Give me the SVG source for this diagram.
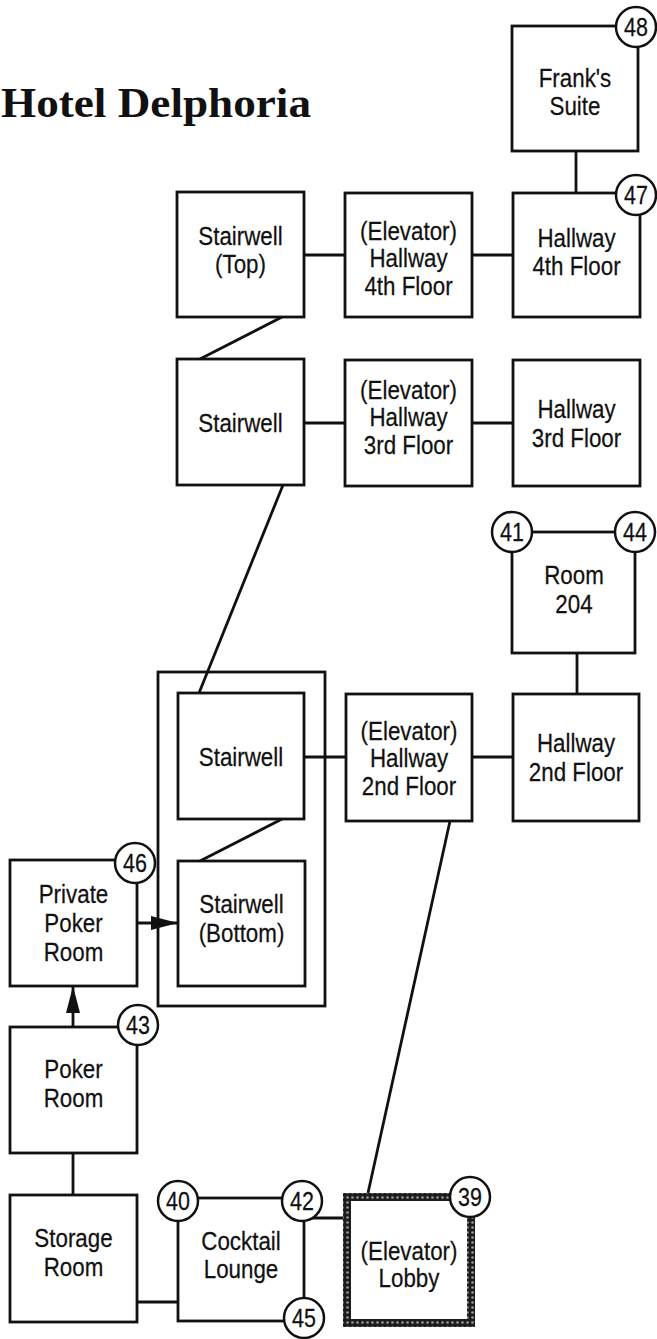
<svg xmlns="http://www.w3.org/2000/svg" width="657" height="1339" viewBox="0 0 657 1339">
<style>
.bg{fill:#ffffff}
.box{fill:none;stroke:#111;stroke-width:2.8}
.encl{fill:none;stroke:#111;stroke-width:2.8}
.con{fill:none;stroke:#111;stroke-width:2.8}
.num{fill:#fff;stroke:#111;stroke-width:2.5}
.t{font-family:"Liberation Sans",Arial,Helvetica,sans-serif;font-size:26px;fill:#111;text-anchor:middle;stroke:#111;stroke-width:0.25}
.n{font-family:"Liberation Sans",Arial,Helvetica,sans-serif;font-size:25px;fill:#111;text-anchor:middle;stroke:#111;stroke-width:0.25}
.title{font-family:"Liberation Serif","Times New Roman",serif;font-size:43px;font-weight:bold;fill:#111}
</style>
<defs>
<marker id="arr" viewBox="0 0 27 14" refX="27" refY="7" markerWidth="27" markerHeight="14" markerUnits="userSpaceOnUse" orient="auto">
<path d="M0,0 L27,7 L0,14 z" fill="#111"/>
</marker>
<pattern id="braid" width="5" height="5" patternUnits="userSpaceOnUse">
<rect width="5" height="5" fill="#1c1c1c"/>
<circle cx="2.5" cy="2.5" r="1.3" fill="#9a9a9a"/>
</pattern>
</defs>
<rect class="bg" x="0" y="0" width="657" height="1339"/>
<text class="title" x="1" y="117" textLength="310" lengthAdjust="spacingAndGlyphs">Hotel Delphoria</text>

<g id="connectors">
<line class="con" x1="576" y1="151" x2="576" y2="193"/>
<line class="con" x1="304" y1="255" x2="345" y2="255"/>
<line class="con" x1="472" y1="255" x2="513" y2="255"/>
<line class="con" x1="282" y1="317" x2="200" y2="359"/>
<line class="con" x1="304" y1="423" x2="345" y2="423"/>
<line class="con" x1="472" y1="423" x2="513" y2="423"/>
<line class="con" x1="283" y1="485" x2="199" y2="693"/>
<line class="con" x1="577" y1="653" x2="577" y2="694"/>
<line class="con" x1="304" y1="757" x2="346" y2="757"/>
<line class="con" x1="472" y1="757" x2="513" y2="757"/>
<line class="con" x1="282" y1="819" x2="200" y2="861"/>
<line class="con" x1="137" y1="923" x2="178" y2="923" marker-end="url(#arr)"/>
<line class="con" x1="73" y1="1027" x2="73" y2="986" marker-end="url(#arr)"/>
<line class="con" x1="73" y1="1153" x2="73" y2="1195"/>
<line class="con" x1="137" y1="1302" x2="178" y2="1302"/>
<line class="con" x1="304" y1="1218" x2="343" y2="1218"/>
<line class="con" x1="450" y1="821" x2="368" y2="1193"/>
</g>

<g id="stair-enclosure">
<rect class="encl" x="158" y="672" width="167" height="334"/>
</g>

<g id="franks-suite">
<rect class="box" x="512" y="26" width="126" height="125"/>
<text class="t" transform="translate(575 0) scale(0.86 1)"><tspan x="0" y="87">Frank's</tspan><tspan x="0" y="115">Suite</tspan></text>
<circle class="num" cx="636" cy="27" r="20"/>
<text class="n" transform="translate(636 0) scale(0.86 1)" x="0" y="36">48</text>
</g>

<g id="hallway-4th">
<rect class="box" x="513" y="193" width="127" height="124"/>
<text class="t" transform="translate(576.5 0) scale(0.86 1)"><tspan x="0" y="247">Hallway</tspan><tspan x="0" y="275">4th Floor</tspan></text>
<circle class="num" cx="636" cy="195" r="20"/>
<text class="n" transform="translate(636 0) scale(0.86 1)" x="0" y="204">47</text>
</g>

<g id="elevator-hallway-4th">
<rect class="box" x="345" y="193" width="127" height="124"/>
<text class="t" transform="translate(408.5 0) scale(0.86 1)"><tspan x="0" y="240">(Elevator)</tspan><tspan x="0" y="267">Hallway</tspan><tspan x="0" y="295">4th Floor</tspan></text>
</g>

<g id="stairwell-top">
<rect class="box" x="177" y="192" width="127" height="125"/>
<text class="t" transform="translate(240.5 0) scale(0.86 1)"><tspan x="0" y="245">Stairwell</tspan><tspan x="0" y="273">(Top)</tspan></text>
</g>

<g id="stairwell-3rd">
<rect class="box" x="177" y="359" width="127" height="126"/>
<text class="t" transform="translate(240.5 0) scale(0.86 1)" x="0" y="432">Stairwell</text>
</g>

<g id="elevator-hallway-3rd">
<rect class="box" x="345" y="360" width="127" height="126"/>
<text class="t" transform="translate(408.5 0) scale(0.86 1)"><tspan x="0" y="399">(Elevator)</tspan><tspan x="0" y="426">Hallway</tspan><tspan x="0" y="454">3rd Floor</tspan></text>
</g>

<g id="hallway-3rd">
<rect class="box" x="513" y="360" width="127" height="126"/>
<text class="t" transform="translate(576.5 0) scale(0.86 1)"><tspan x="0" y="418">Hallway</tspan><tspan x="0" y="447">3rd Floor</tspan></text>
</g>

<g id="room-204">
<rect class="box" x="512" y="532" width="123" height="121"/>
<text class="t" transform="translate(574 0) scale(0.86 1)"><tspan x="0" y="584">Room</tspan><tspan x="0" y="613">204</tspan></text>
<circle class="num" cx="512" cy="532" r="20"/>
<text class="n" transform="translate(512 0) scale(0.86 1)" x="0" y="541">41</text>
<circle class="num" cx="635" cy="532" r="20"/>
<text class="n" transform="translate(635 0) scale(0.86 1)" x="0" y="541">44</text>
</g>

<g id="stairwell-2nd">
<rect class="box" x="178" y="693" width="126" height="126"/>
<text class="t" transform="translate(241 0) scale(0.86 1)" x="0" y="766">Stairwell</text>
</g>

<g id="elevator-hallway-2nd">
<rect class="box" x="346" y="694" width="126" height="127"/>
<text class="t" transform="translate(409 0) scale(0.86 1)"><tspan x="0" y="740">(Elevator)</tspan><tspan x="0" y="767">Hallway</tspan><tspan x="0" y="795">2nd Floor</tspan></text>
</g>

<g id="hallway-2nd">
<rect class="box" x="513" y="694" width="126" height="127"/>
<text class="t" transform="translate(576 0) scale(0.86 1)"><tspan x="0" y="752">Hallway</tspan><tspan x="0" y="781">2nd Floor</tspan></text>
</g>

<g id="stairwell-bottom">
<rect class="box" x="178" y="861" width="127" height="125"/>
<text class="t" transform="translate(241.5 0) scale(0.86 1)"><tspan x="0" y="913">Stairwell</tspan><tspan x="0" y="942">(Bottom)</tspan></text>
</g>

<g id="private-poker-room">
<rect class="box" x="10" y="860" width="127" height="126"/>
<text class="t" transform="translate(73.5 0) scale(0.86 1)"><tspan x="0" y="903">Private</tspan><tspan x="0" y="932">Poker</tspan><tspan x="0" y="961">Room</tspan></text>
<circle class="num" cx="135" cy="863" r="20"/>
<text class="n" transform="translate(135 0) scale(0.86 1)" x="0" y="872">46</text>
</g>

<g id="poker-room">
<rect class="box" x="10" y="1027" width="127" height="126"/>
<text class="t" transform="translate(73.5 0) scale(0.86 1)"><tspan x="0" y="1078">Poker</tspan><tspan x="0" y="1107">Room</tspan></text>
<circle class="num" cx="138" cy="1025" r="20"/>
<text class="n" transform="translate(138 0) scale(0.86 1)" x="0" y="1034">43</text>
</g>

<g id="storage-room">
<rect class="box" x="10" y="1195" width="127" height="127"/>
<text class="t" transform="translate(73.5 0) scale(0.86 1)"><tspan x="0" y="1247">Storage</tspan><tspan x="0" y="1276">Room</tspan></text>
</g>

<g id="cocktail-lounge">
<rect class="box" x="178" y="1198" width="126" height="123"/>
<text class="t" transform="translate(241 0) scale(0.86 1)"><tspan x="0" y="1250">Cocktail</tspan><tspan x="0" y="1278">Lounge</tspan></text>
<circle class="num" cx="178" cy="1201" r="20"/>
<text class="n" transform="translate(178 0) scale(0.86 1)" x="0" y="1210">40</text>
<circle class="num" cx="302" cy="1201" r="20"/>
<text class="n" transform="translate(302 0) scale(0.86 1)" x="0" y="1210">42</text>
<circle class="num" cx="304" cy="1318" r="20"/>
<text class="n" transform="translate(304 0) scale(0.86 1)" x="0" y="1327">45</text>
</g>

<g id="elevator-lobby">
<rect x="347" y="1197" width="124" height="126" fill="none" stroke="url(#braid)" stroke-width="8"/>
<text class="t" transform="translate(409 0) scale(0.86 1)"><tspan x="0" y="1260">(Elevator)</tspan><tspan x="0" y="1287">Lobby</tspan></text>
<circle class="num" cx="470" cy="1197" r="20"/>
<text class="n" transform="translate(470 0) scale(0.86 1)" x="0" y="1206">39</text>
</g>
</svg>
